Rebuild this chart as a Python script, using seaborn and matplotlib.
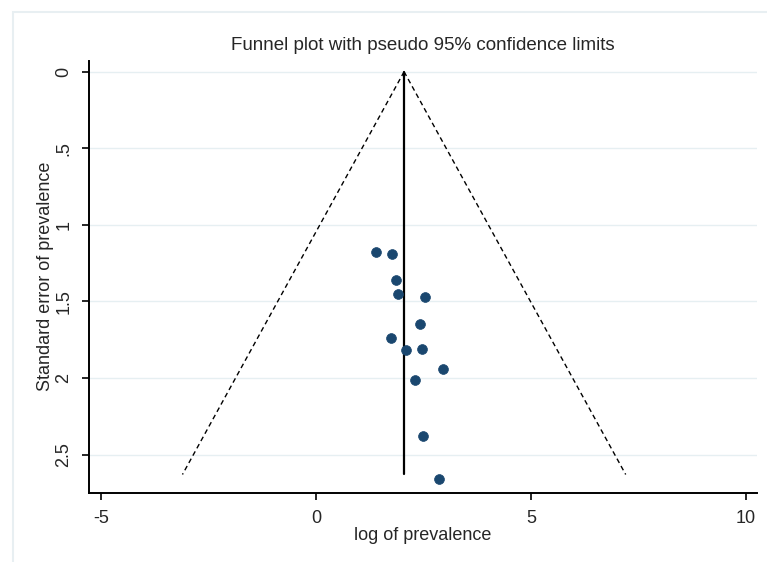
import numpy as np
import pandas as pd
import matplotlib
matplotlib.use("Agg")
from matplotlib import pyplot as plt
import seaborn as sns

# study estimates
log_prev = [1.40, 1.78, 1.86, 1.91, 2.53, 2.42, 1.74, 2.09, 2.46, 2.95, 2.30, 2.50, 2.87]
se_prev = [1.18, 1.19, 1.36, 1.45, 1.47, 1.65, 1.74, 1.82, 1.81, 1.94, 2.01, 2.38, 2.66]
pooled = 2.05
se_max = 2.63
x_ticks = [-5, 0, 5, 10]
y_ticks = [0, 0.5, 1, 1.5, 2, 2.5]
y_tick_labels = ["0", ".5", "1", "1.5", "2", "2.5"]

sns.set_style("white")
plt.rcParams["font.family"] = ["Liberation Sans", "DejaVu Sans"]

studies = pd.DataFrame({"x": log_prev, "se": se_prev})
funnel = pd.DataFrame({
    "se": [0, se_max, 0, se_max],
    "x": [pooled, pooled - 1.96 * se_max, pooled, pooled + 1.96 * se_max],
    "side": ["lower", "lower", "upper", "upper"],
})
centre = pd.DataFrame({"x": [pooled, pooled], "se": [0, se_max]})

fig = plt.figure(figsize=(7.67, 5.62), dpi=100)
ax = fig.add_axes([0.116, 0.123, 0.871, 0.769])

for y in y_ticks:
    ax.axhline(y, color="#e6eff2", lw=1.0, zorder=0)

sns.lineplot(data=funnel, x="x", y="se", units="side", estimator=None, sort=False,
             color="black", lw=1.0, linestyle=(0, (3.5, 2.5)), ax=ax)
sns.lineplot(data=centre, x="x", y="se", estimator=None, sort=False,
             color="black", lw=1.6, ax=ax)
sns.scatterplot(data=studies, x="x", y="se", color="#1a476f", s=50,
                edgecolor="#1a476f", linewidth=0.5, marker="o", ax=ax, zorder=3)

ax.set_xlim(-5.28, 10.26)
ax.set_ylim(2.75, -0.072)
ax.set_xticks(x_ticks)
ax.set_xticklabels([str(t) for t in x_ticks], fontsize=13)
ax.set_yticks(y_ticks)
ax.set_yticklabels(y_tick_labels, fontsize=13, rotation=90, va="center")
ax.tick_params(axis="both", direction="out", length=5, width=1.2, color="black", pad=7)
ax.tick_params(left=True, bottom=True)

for side in ["top", "right"]:
    ax.spines[side].set_visible(False)
for side in ["left", "bottom"]:
    ax.spines[side].set_color("black")
    ax.spines[side].set_linewidth(1.4)

ax.set_xlabel("log of prevalence", fontsize=13, labelpad=0)
ax.set_ylabel("Standard error of prevalence", fontsize=13, labelpad=1)
ax.set_title("Funnel plot with pseudo 95% confidence limits", fontsize=13.5, pad=8)

# faint outer frame of the graph region (cropped at right and bottom)
fig.patches.append(plt.Rectangle((0.017, -0.1), 1.1, 1.079, transform=fig.transFigure,
                                 fill=False, edgecolor="#e8eff2", lw=1.5))

fig.savefig("out.png", dpi=100)
